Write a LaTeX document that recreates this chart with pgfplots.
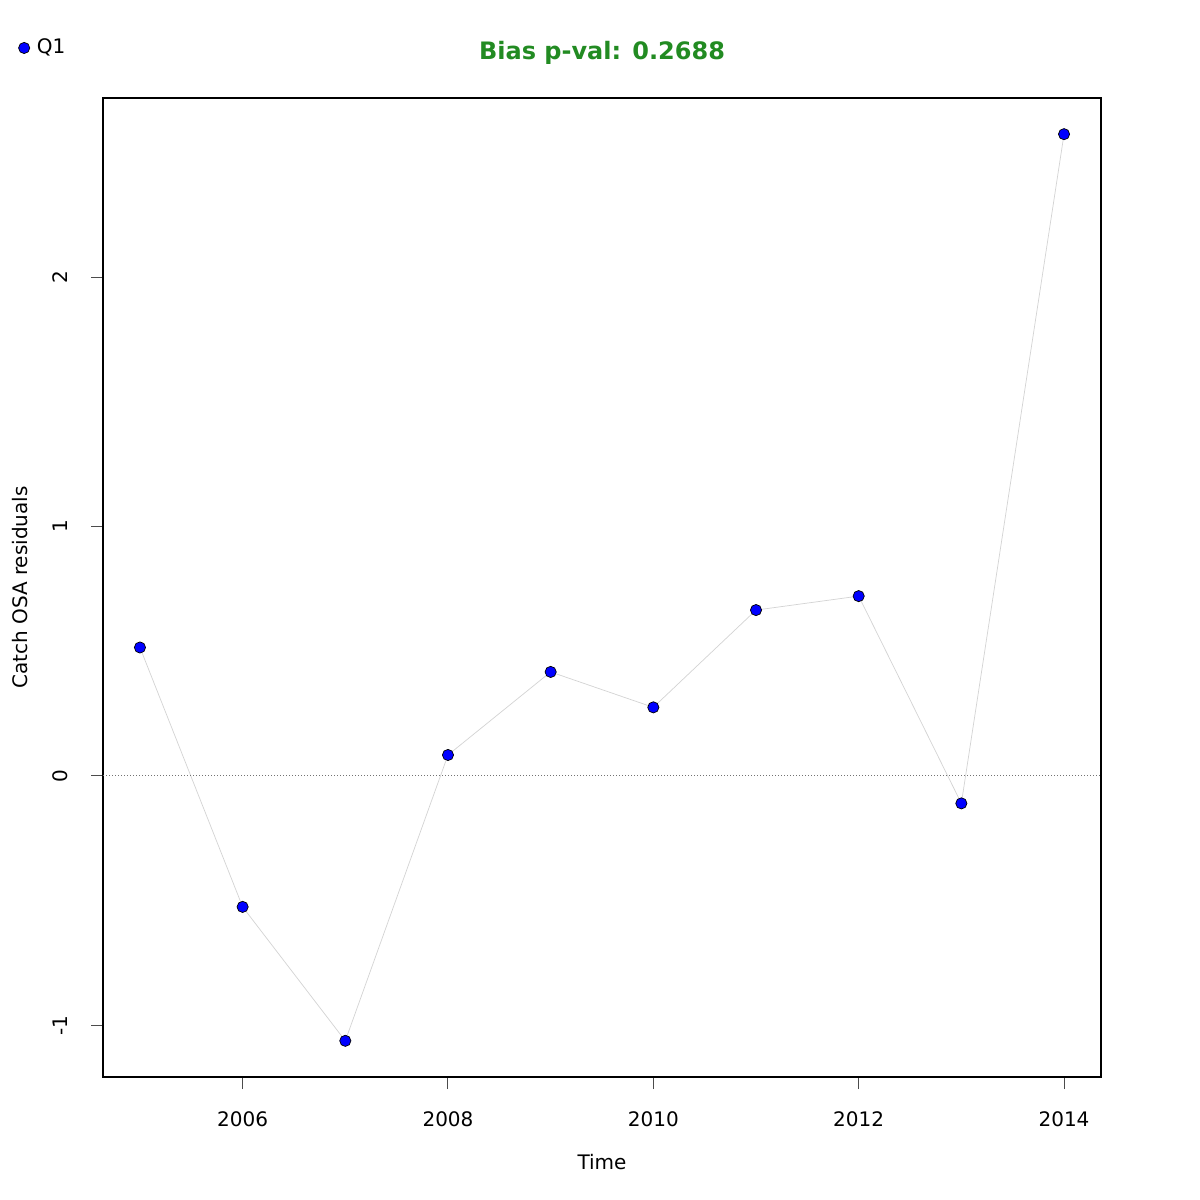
\documentclass[border=0pt]{standalone}
\usepackage{pgfplots}
\pgfplotsset{compat=1.18}
\usepackage{fontspec}
\setmainfont{DejaVu Sans}
\definecolor{titlegreen}{RGB}{34,139,34}
\definecolor{linegray}{RGB}{211,211,211}

\pgfplotstableread{
year res
2005 0.515
2006 -0.525
2007 -1.062
2008 0.084
2009 0.417
2010 0.275
2011 0.665
2012 0.721
2013 -0.110
2014 2.573
}\resid

\begin{document}
\begin{tikzpicture}
\path[use as bounding box] (0pt,0pt) rectangle (600pt,600pt);
\begin{axis}[
    at={(51.5pt,61.5pt)}, anchor=south west,
    scale only axis,
    width=499pt, height=489.5pt,
    xmin=2004.64, xmax=2014.36,
    ymin=-1.207, ymax=2.718,
    xtick={2006,2008,2010,2012,2014},
    ytick={-1,0,1,2},
    xticklabel style={/pgf/number format/1000 sep={}},
    /pgf/number format/assume math mode=true,
    tick align=outside,
    major tick length=6pt,
    tick style={black!70, line width=0.5pt},
    xtick pos=bottom, ytick pos=left,
    axis line style={line width=0.6pt},
    font=\fontsize{10}{12}\selectfont,
    yticklabel style={rotate=90, anchor=south},
    xticklabel shift=8pt,
    yticklabel shift=8pt,
    xlabel={Time},
    ylabel={Catch OSA residuals},
    xlabel style={at={(axis description cs:0.5,-0.0868)}, anchor=center},
    ylabel style={at={(axis description cs:-0.0832,0.5)}, anchor=center},
    title={\bfseries Bias p-val: 0.2688},
    title style={at={(axis description cs:0.5,1)}, anchor=base, yshift=13pt, text=titlegreen, font=\fontsize{12}{14}\selectfont},
    legend style={at={(axis description cs:-0.085,1.0511)}, anchor=west, draw=none, fill=none, inner sep=0pt, column sep=1.5pt, font=\fontsize{10}{12}\selectfont},
    legend cell align=left,
    clip=false,
]
\addplot[linegray, line width=0.35pt, forget plot] table[x=year,y=res] {\resid};
\addplot[only marks, mark=*, mark size=2.8pt, mark options={fill=blue, draw=black, line width=0.35pt}] table[x=year,y=res] {\resid};
\addlegendentry{Q1}
\addplot[black!55, dash pattern=on 0.5pt off 1pt, line width=0.5pt, forget plot] coordinates {(2004.64,0) (2014.36,0)};
\end{axis}
\end{tikzpicture}
\end{document}
